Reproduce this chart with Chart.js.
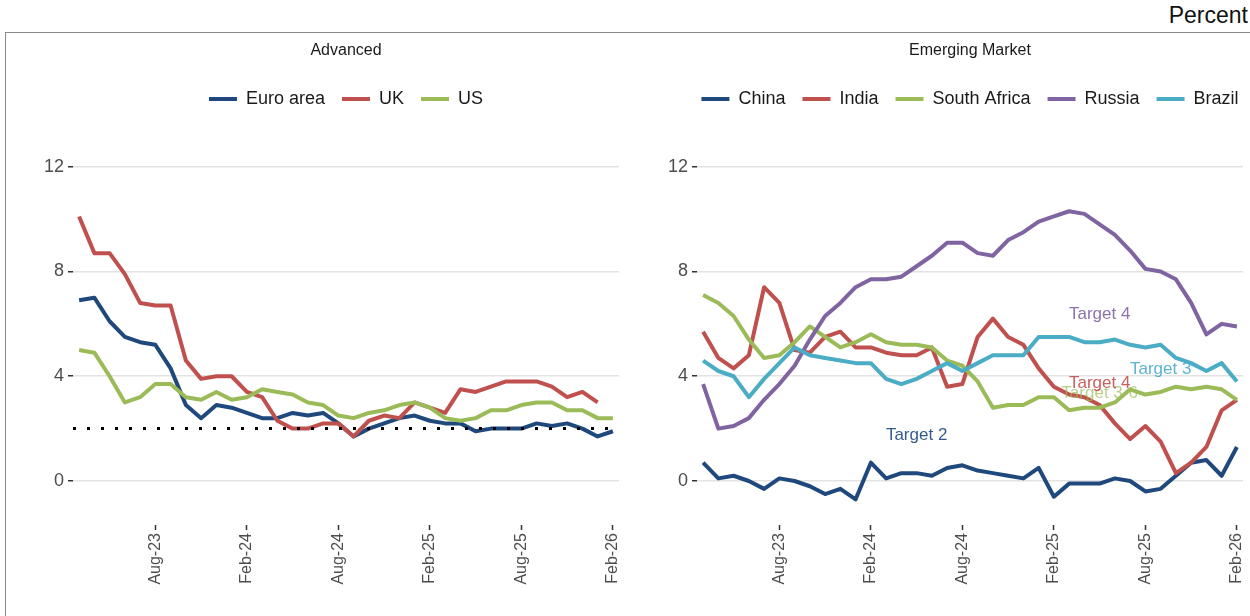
<!DOCTYPE html>
<html>
<head>
<meta charset="utf-8">
<title>Headline inflation</title>
<script src="https://cdn.jsdelivr.net/npm/chart.js@4.4.1/dist/chart.umd.min.js"></script>
<style>
  html, body { margin: 0; padding: 0; background: #fff; }
  body { position: relative; width: 1250px; height: 616px; overflow: hidden; font-family: 'Liberation Sans', Arial, sans-serif; }
  #frame { position: absolute; left: 5px; top: 32px; width: 1300px; height: 700px; border: 1.5px solid #8a8a8a; }
  #unit { position: absolute; right: 2px; top: 2px; font-size: 23px; color: #111; }
  canvas { position: absolute; }
  #advanced { left: 6px; top: 33px; }
  #emerging { left: 640px; top: 33px; }
</style>
</head>
<body>
<div id="frame"></div>
<div id="unit">Percent</div>
<canvas id="advanced" width="680" height="583"></canvas>
<canvas id="emerging" width="660" height="583"></canvas>
<script>
const FONT = "'Liberation Sans', Arial, sans-serif";

// monthly observations, year-on-year %
const months = ['Mar-23', 'Apr-23', 'May-23', 'Jun-23', 'Jul-23', 'Aug-23', 'Sep-23', 'Oct-23', 'Nov-23', 'Dec-23',
  'Jan-24', 'Feb-24', 'Mar-24', 'Apr-24', 'May-24', 'Jun-24', 'Jul-24', 'Aug-24', 'Sep-24', 'Oct-24', 'Nov-24', 'Dec-24',
  'Jan-25', 'Feb-25', 'Mar-25', 'Apr-25', 'May-25', 'Jun-25', 'Jul-25', 'Aug-25', 'Sep-25', 'Oct-25', 'Nov-25', 'Dec-25',
  'Jan-26', 'Feb-26'];
const xTickLabels = ['Aug-23', 'Feb-24', 'Aug-24', 'Feb-25', 'Aug-25', 'Feb-26'];
const yTicks = [0, 4, 8, 12];

// Advanced economies
const euroArea = [6.9, 7.0, 6.1, 5.5, 5.3, 5.2, 4.3, 2.9, 2.4, 2.9, 2.8, 2.6, 2.4, 2.4, 2.6, 2.5, 2.6, 2.2,
  1.7, 2.0, 2.2, 2.4, 2.5, 2.3, 2.2, 2.2, 1.9, 2.0, 2.0, 2.0, 2.2, 2.1, 2.2, 2.0, 1.7, 1.9];
const uk = [10.1, 8.7, 8.7, 7.9, 6.8, 6.7, 6.7, 4.6, 3.9, 4.0, 4.0, 3.4, 3.2, 2.3, 2.0, 2.0, 2.2, 2.2,
  1.7, 2.3, 2.5, 2.4, 3.0, 2.8, 2.6, 3.5, 3.4, 3.6, 3.8, 3.8, 3.8, 3.6, 3.2, 3.4, 3.0, null];
const us = [5.0, 4.9, 4.0, 3.0, 3.2, 3.7, 3.7, 3.2, 3.1, 3.4, 3.1, 3.2, 3.5, 3.4, 3.3, 3.0, 2.9, 2.5,
  2.4, 2.6, 2.7, 2.9, 3.0, 2.8, 2.4, 2.3, 2.4, 2.7, 2.7, 2.9, 3.0, 3.0, 2.7, 2.7, 2.4, 2.4];
const advancedTarget = 2;

// Emerging markets
const china = [0.7, 0.1, 0.2, 0.0, -0.3, 0.1, 0.0, -0.2, -0.5, -0.3, -0.7, 0.7, 0.1, 0.3, 0.3, 0.2, 0.5, 0.6,
  0.4, 0.3, 0.2, 0.1, 0.5, -0.6, -0.1, -0.1, -0.1, 0.1, 0.0, -0.4, -0.3, 0.2, 0.7, 0.8, 0.2, 1.3];
const india = [5.7, 4.7, 4.3, 4.8, 7.4, 6.8, 5.0, 4.9, 5.5, 5.7, 5.1, 5.1, 4.9, 4.8, 4.8, 5.1, 3.6, 3.7,
  5.5, 6.2, 5.5, 5.2, 4.3, 3.6, 3.3, 3.2, 2.9, 2.2, 1.6, 2.1, 1.5, 0.3, 0.7, 1.3, 2.7, 3.1];
const southAfrica = [7.1, 6.8, 6.3, 5.4, 4.7, 4.8, 5.3, 5.9, 5.5, 5.1, 5.3, 5.6, 5.3, 5.2, 5.2, 5.1, 4.6, 4.4,
  3.8, 2.8, 2.9, 2.9, 3.2, 3.2, 2.7, 2.8, 2.8, 3.0, 3.5, 3.3, 3.4, 3.6, 3.5, 3.6, 3.5, 3.1];
const russia = [3.7, 2.0, 2.1, 2.4, 3.1, 3.7, 4.4, 5.4, 6.3, 6.8, 7.4, 7.7, 7.7, 7.8, 8.2, 8.6, 9.1, 9.1,
  8.7, 8.6, 9.2, 9.5, 9.9, 10.1, 10.3, 10.2, 9.8, 9.4, 8.8, 8.1, 8.0, 7.7, 6.8, 5.6, 6.0, 5.9];
const brazil = [4.6, 4.2, 4.0, 3.2, 3.9, 4.5, 5.1, 4.8, 4.7, 4.6, 4.5, 4.5, 3.9, 3.7, 3.9, 4.2, 4.5, 4.2,
  4.5, 4.8, 4.8, 4.8, 5.5, 5.5, 5.5, 5.3, 5.3, 5.4, 5.2, 5.1, 5.2, 4.7, 4.5, 4.2, 4.5, 3.8];

// inflation target notes for the emerging markets, anchored in data units
const targetCountry = ['China', 'South Africa', 'India', 'Russia', 'Brazil'];
const targetText = ['Target 2', 'Target 3-6', 'Target 4', 'Target 4', 'Target 3'];
const targetMonth = ['May-24', 'May-25', 'May-25', 'May-25', 'Sep-25'];
const targetLevel = [1.75, 3.35, 3.72, 6.38, 4.25];

const colors = {
  'Euro area': '#1f497d', 'UK': '#c0504d', 'US': '#9bbb59',
  'China': '#1f497d', 'India': '#c0504d', 'South Africa': '#9bbb59', 'Russia': '#8064a2', 'Brazil': '#4bacc6'
};

const xMin = -0.4;
const xMax = months.length - 1 + 0.4;

function lineDataset(label, values, order) {
  return {
    label,
    data: values.map((v, i) => ({ x: i, y: v })),
    borderColor: colors[label],
    backgroundColor: colors[label],
    borderWidth: 4,
    borderJoinStyle: 'round',
    pointRadius: 0,
    order
  };
}

const targetLabels = {
  id: 'targetLabels',
  afterDatasetsDraw(chart, args, opts) {
    if (!opts.items) return;
    const { ctx, scales: { x, y } } = chart;
    ctx.save();
    ctx.font = '17px ' + FONT;
    ctx.textAlign = 'center';
    ctx.textBaseline = 'middle';
    opts.items.forEach(item => {
      ctx.globalAlpha = item.alpha;
      ctx.fillStyle = item.color;
      ctx.fillText(item.text, x.getPixelForValue(item.x), y.getPixelForValue(item.y));
    });
    ctx.restore();
  }
};

function buildPanel(canvasId, title, datasets, sideWidth, notes) {
  return new Chart(document.getElementById(canvasId), {
    type: 'line',
    data: { datasets },
    plugins: [targetLabels],
    options: {
      responsive: false,
      animation: false,
      events: [],
      layout: { padding: 0 },
      plugins: {
        title: {
          display: true,
          text: title,
          color: '#1a1a1a',
          font: { family: FONT, size: 16, weight: 'normal' },
          padding: { top: 8.4, bottom: 12.4 }
        },
        legend: {
          position: 'top',
          labels: {
            usePointStyle: true,
            pointStyle: 'line',
            pointStyleWidth: 28,
            color: '#1a1a1a',
            font: { family: FONT, size: 18 },
            padding: 17,
            filter: (item, data) => !data.datasets[item.datasetIndex].hideInLegend,
            sort: (a, b) => a.datasetIndex - b.datasetIndex
          }
        },
        tooltip: { enabled: false },
        targetLabels: { items: notes }
      },
      scales: {
        x: {
          type: 'linear',
          min: xMin,
          max: xMax,
          afterBuildTicks: s => { s.ticks = xTickLabels.map(l => ({ value: months.indexOf(l) })); },
          afterFit: s => { s.height = 91; },
          ticks: {
            minRotation: 90,
            maxRotation: 90,
            padding: 3,
            color: '#4d4d4d',
            font: { family: FONT, size: 16 },
            callback: v => months[v]
          },
          grid: { drawOnChartArea: false, drawTicks: true, tickLength: 5, tickColor: '#333', tickWidth: 1.5 },
          border: { display: false }
        },
        y: {
          type: 'linear',
          min: -1.68,
          max: 13.86,
          afterBuildTicks: s => { s.ticks = yTicks.map(v => ({ value: v })); },
          afterFit: s => { s.width = sideWidth; },
          ticks: { padding: 4, color: '#4d4d4d', font: { family: FONT, size: 18 } },
          grid: { color: '#e3e3e3', lineWidth: 1.5, tickLength: 5, tickColor: '#333', tickWidth: 1.5 },
          border: { display: false }
        },
        // empty right-hand gutter keeps the plot centred under the title and legend
        yGutter: {
          position: 'right',
          grid: { display: false },
          ticks: { display: false },
          border: { display: false },
          afterFit: s => { s.width = sideWidth; }
        }
      }
    }
  });
}

const advancedSets = [
  lineDataset('Euro area', euroArea, 3),
  lineDataset('UK', uk, 2),
  lineDataset('US', us, 1),
  {
    label: 'Target',
    hideInLegend: true,
    data: [{ x: xMin, y: advancedTarget }, { x: xMax, y: advancedTarget }],
    borderColor: '#000',
    borderWidth: 3,
    borderDash: [3, 11],
    pointRadius: 0,
    order: -1
  }
];
buildPanel('advanced', 'Advanced', advancedSets, 67, []);

const emergingSets = [
  lineDataset('China', china, 5),
  lineDataset('India', india, 4),
  lineDataset('South Africa', southAfrica, 3),
  lineDataset('Russia', russia, 2),
  lineDataset('Brazil', brazil, 1)
];
const emergingNotes = targetText.map((text, i) => ({
  text,
  x: months.indexOf(targetMonth[i]),
  y: targetLevel[i],
  color: colors[targetCountry[i]],
  alpha: targetCountry[i] === 'South Africa' ? 0.7 : 0.9
}));
buildPanel('emerging', 'Emerging Market', emergingSets, 57, emergingNotes);
</script>
</body>
</html>
